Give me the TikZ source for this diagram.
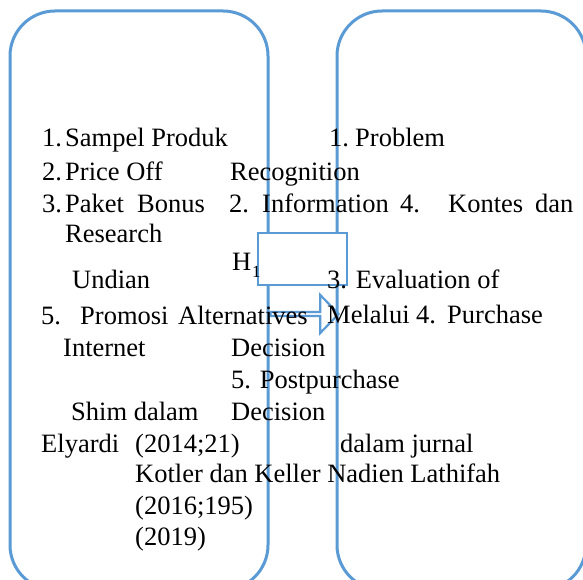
\documentclass[tikz,border=0pt]{standalone}
\usepackage{fontspec}
\setmainfont{Liberation Serif}
\usetikzlibrary{shapes.arrows}

\definecolor{boxblue}{HTML}{5B9BD5}
\newcommand\txtsize{\fontsize{26.5}{31}\selectfont}
\newcommand\subsize{\fontsize{17}{20}\selectfont}

\tikzset{
  roundbox/.style={draw=boxblue,line width=3pt,rounded corners=45pt,
    inner sep=0pt,minimum width=258pt,minimum height=579pt},
  hrect/.style={draw=boxblue,fill=white,line width=2.2pt,inner sep=0pt,
    minimum width=89pt,minimum height=52pt},
  blockarrow/.style={single arrow,draw=boxblue,line width=2.2pt,inner sep=0pt,
    minimum height=68pt,minimum width=38pt,single arrow head extend=9pt,
    single arrow tip angle=92,anchor=west},
  txt/.style={anchor=base west,inner sep=0pt,font=\txtsize}
}

\begin{document}
\begin{tikzpicture}[x=1pt,y=-1pt]
  \clip (0,0) rectangle (583,580);
  \fill[white] (0,0) rectangle (583,580);

  % the two rounded boxes, the H1 box and the arrow between them
  \node[roundbox] (promo) at (139,300.5) {};
  \node[roundbox,minimum width=249pt] (decide) at (461.5,300.5) {};
  \node[hrect] (hbox) at (302.5,259) {};
  \node[blockarrow] (arr) at (promo.east |- 0,314) {};

  % left column
  \node[txt] (n1) at (42,147) {1.};
  \node[txt] (sampel) at (65,147) {Sampel Produk};
  \node[txt] (n2) at (42,180) {2.};
  \node[txt] (price) at (65,180) {Price Off};
  \node[txt] (n3) at (42,212) {3.};
  \node[txt] (paket) at (65,212) {Paket};
  \node[txt] (bonus) at (137,212) {Bonus};
  \node[txt] (research) at (65,242) {Research};
  \node[txt] (undian) at (72,288) {Undian};
  \node[txt] (n5) at (41,324) {5.};
  \node[txt] (promosi) at (80,324) {Promosi};
  \node[txt] (internet) at (63,356) {Internet};
  \node[txt] (shim) at (71,420) {Shim dalam};
  \node[txt] (elyardi) at (41,452) {Elyardi};
  \node[txt] (y2014) at (135,452) {(2014;21)};
  \node[txt] (kotler) at (135,482) {Kotler dan Keller Nadien Lathifah};
  \node[txt] (y2016) at (135,514) {(2016;195)};
  \node[txt] (y2019) at (135,545) {(2019)};

  % middle column
  \node[txt] (recog) at (230,180) {Recognition};
  \node[txt] (m2) at (229,212) {2.};
  \node[txt] (info) at (262,212) {Information};
  \node[txt] (h) at (232,270) {H};
  \node[txt,font=\subsize] (hsub) at (252,277) {1};
  \node[txt] (alter) at (178,324) {Alternatives};
  \node[txt] (dec1) at (231,356) {Decision};
  \node[txt] (post) at (231,388) {5. Postpurchase};
  \node[txt] (dec2) at (231,420) {Decision};

  % right column
  \node[txt] (r1) at (329,147) {1.};
  \node[txt] (problem) at (355,147) {Problem};
  \node[txt] (r4) at (400,212) {4.};
  \node[txt] (kontes) at (448,212) {Kontes};
  \node[txt] (dan) at (535,212) {dan};
  \node[txt] (eval) at (327,288) {3. Evaluation of};
  \node[txt] (melalui) at (327,323) {Melalui};
  \node[txt] (r4b) at (416,323) {4.};
  \node[txt] (purchase) at (447,323) {Purchase};
  \node[txt] (jurnal) at (340,452) {dalam jurnal};
\end{tikzpicture}
\end{document}
